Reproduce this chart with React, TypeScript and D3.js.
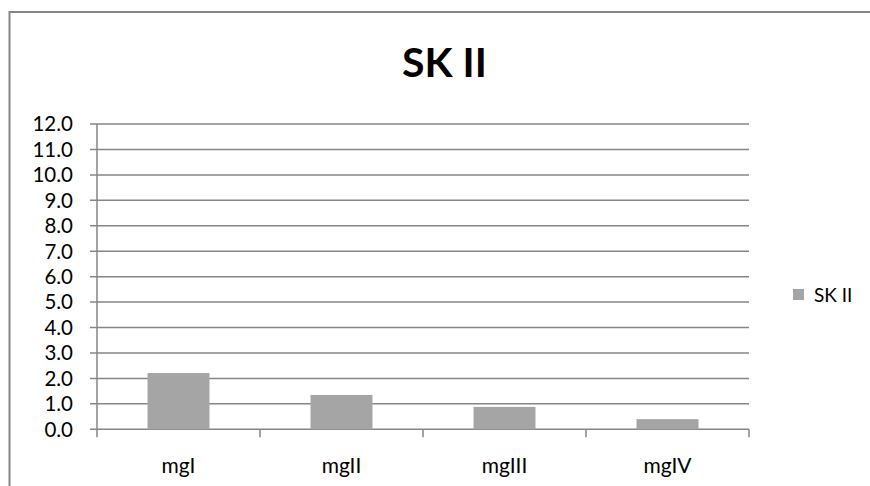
import React from "react";
import * as d3 from "d3";

const categories = ["mgI", "mgII", "mgIII", "mgIV"];
const values = [2.21, 1.35, 0.88, 0.4];
const seriesName = "SK II";
const yTicks = [0, 1, 2, 3, 4, 5, 6, 7, 8, 9, 10, 11, 12];

const W = 870;
const H = 486;
const left = 97;
const right = 749;
const top = 124;
const bottom = 429.3;
const grid = "#868686";
const barColor = "#a5a5a5";
const font = "Lato, 'Open Sans', sans-serif";

export default function App() {
  const x = d3.scaleBand<string>().domain(categories).range([left, right]);
  const y = d3.scaleLinear().domain([0, 12]).range([bottom, top]);
  const bw = x.bandwidth() * 0.38;
  const bounds = [...categories.map((c) => x(c)!), right];
  return (
    <svg
      width={W}
      height={H}
      style={{ position: "absolute", left: 0, top: 0, background: "#fff" }}
    >
      <rect x={9.5} y={12} width={W + 20} height={H + 20} fill="#fff" stroke={grid} strokeWidth={2} />
      <text
        x={444.5}
        y={77}
        textAnchor="middle"
        fontFamily={font}
        fontWeight="bold"
        fontSize={41}
        fill="#000"
      >
        SK II
      </text>
      {yTicks.map((t) => (
        <g key={t}>
          <line x1={90} x2={right} y1={y(t)} y2={y(t)} stroke={grid} strokeWidth={1.5} />
          <text
            x={73}
            y={y(t)}
            dy="0.36em"
            textAnchor="end"
            fontFamily={font}
            fontSize={20.5}
            fill="#000"
          >
            {d3.format(".1f")(t)}
          </text>
        </g>
      ))}
      <line x1={left} x2={left} y1={top} y2={bottom} stroke={grid} strokeWidth={1.5} />
      {bounds.map((b, i) => (
        <line key={i} x1={b} x2={b} y1={bottom} y2={bottom + 8} stroke={grid} strokeWidth={1.5} />
      ))}
      {categories.map((c, i) => (
        <g key={c}>
          <rect
            x={x(c)! + x.bandwidth() / 2 - bw / 2}
            y={y(values[i])}
            width={bw}
            height={y(0) - y(values[i])}
            fill={barColor}
          />
          <text
            x={x(c)! + x.bandwidth() / 2}
            y={473}
            textAnchor="middle"
            fontFamily={font}
            fontSize={21}
            fill="#000"
          >
            {c}
          </text>
        </g>
      ))}
      <rect x={793} y={289} width={11} height={11} fill={barColor} />
      <text x={814} y={295} dy="0.36em" fontFamily={font} fontSize={19} fill="#000">
        {seriesName}
      </text>
    </svg>
  );
}
